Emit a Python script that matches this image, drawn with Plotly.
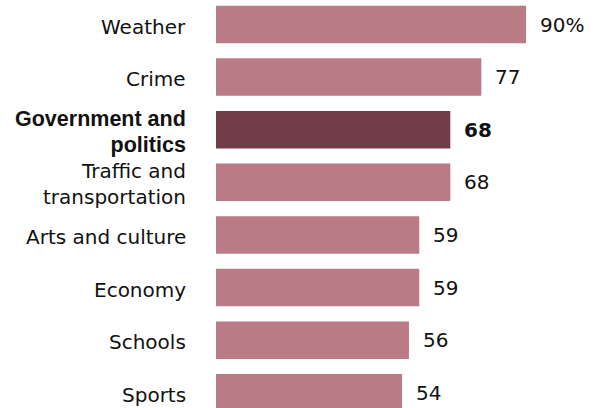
import plotly.graph_objects as go

categories = ["Weather", "Crime", "Government and politics", "Traffic and transportation",
              "Arts and culture", "Economy", "Schools", "Sports"]
tick_labels = ["Weather", "Crime",
               "<b><span style='font-family:Liberation Sans, Arial, sans-serif;font-size:21.5px'>Government and<br>politics</span></b>",
               "Traffic and<br>transportation",
               "Arts and culture", "Economy", "Schools", "Sports"]
values = [90, 77, 68, 68, 59, 59, 56, 54]
value_labels = ["90%", "77", "<b>68</b>", "68", "59", "59", "56", "54"]
highlight = "Government and politics"

LIGHT = "#b97b86"
DARK = "#723c48"
FONT = "DejaVu Sans, Verdana, sans-serif"
TXT = "#111111"

colors = [DARK if c == highlight else LIGHT for c in categories]

fig = go.Figure(go.Bar(
    x=values, y=categories, orientation="h",
    marker=dict(color=colors, line=dict(width=0)),
    hoverinfo="skip",
))

for c, v, t in zip(categories, values, value_labels):
    fig.add_annotation(x=v, y=c, xref="x", yref="y", text=t, showarrow=False,
                       xanchor="left", yanchor="middle", xshift=12,
                       font=dict(family=FONT, size=20, color=TXT))

for c, lab in zip(categories, tick_labels):
    fig.add_annotation(x=0, y=c, xref="paper", yref="y", text=lab, showarrow=False,
                       xanchor="right", yanchor="middle", align="right",
                       xshift=-28, yshift=-2,
                       font=dict(family=FONT, size=20, color=TXT))

fig.update_layout(
    width=595, height=408,
    margin=dict(l=216, r=0, t=0, b=0),
    paper_bgcolor="white", plot_bgcolor="white",
    bargap=0.287, showlegend=False,
    font=dict(family=FONT, size=20, color=TXT),
)
fig.update_xaxes(range=[0, 110], visible=False)
fig.update_yaxes(range=[7.29, -0.466], showticklabels=False,
                 showgrid=False, zeroline=False, showline=False, ticks="")

fig.write_html("out.html")
